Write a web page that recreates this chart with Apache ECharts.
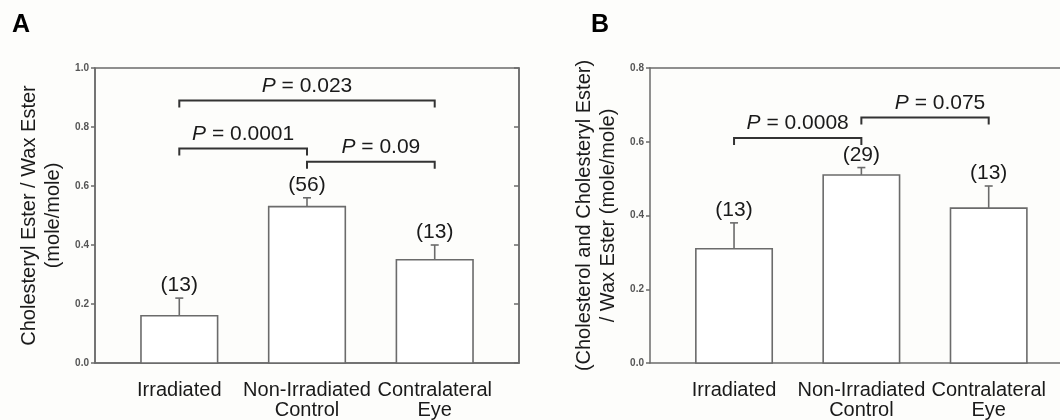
<!DOCTYPE html>
<html>
<head>
<meta charset="utf-8">
<script src="https://cdn.jsdelivr.net/npm/echarts@6/dist/echarts.min.js"></script>
<style>
html,body{margin:0;padding:0;background:#fdfdfb;}
#chart{width:1060px;height:420px;}
</style>
</head>
<body>
<div id="chart"></div>
<script>
// ---- data ----
const categories = ['Irradiated', 'Non-Irradiated\nControl', 'Contralateral\nEye'];
const meanA = [0.16, 0.53, 0.35];
const semA  = [0.06, 0.03, 0.05];
const nA    = [13, 56, 13];
const meanB = [0.31, 0.51, 0.42];
const semB  = [0.07, 0.02, 0.06];
const nB    = [13, 29, 13];
// comparisons: [from category, to category, bracket level, p value]
const compA = [[0, 2, 0.89, '0.023'], [0, 1, 0.727, '0.0001'], [1, 2, 0.682, '0.09']];
const compB = [[0, 1, 0.61, '0.0008'], [1, 2, 0.666, '0.075']];
const yTicksA = { min: 0, max: 1.0, interval: 0.2 };
const yTicksB = { min: 0, max: 0.8, interval: 0.2 };
const titleA = 'Cholesteryl Ester / Wax Ester\n(mole/mole)';
const titleB = '(Cholesterol and Cholesteryl Ester)\n/ Wax Ester (mole/mole)';

// ---- style ----
const FONT = "'Liberation Sans', Arial, sans-serif";
const BAR_HALF = 0.3;
const CAP = 4;
const LEG = 7;
const pShiftA = [0, 0, 10];
const pShiftB = [0, 15];
const LINE = '#6b6b6b';
const DARK = '#333';
const TEXT = '#1a1a1a';

function barRender() {
  return function (params, api) {
    const i = api.value(0);
    const m = api.value(1);
    const top = m + api.value(2);
    const p0 = api.coord([i - BAR_HALF, m]);
    const p1 = api.coord([i + BAR_HALF, 0]);
    const c = api.coord([i, m]);
    const e = api.coord([i, top]);
    return {
      type: 'group',
      children: [
        { type: 'rect', shape: { x: p0[0], y: p0[1], width: p1[0] - p0[0], height: p1[1] - p0[1] },
          style: { fill: '#ffffff', stroke: LINE, lineWidth: 1.6 } },
        { type: 'line', shape: { x1: c[0], y1: c[1], x2: e[0], y2: e[1] }, style: { stroke: LINE, lineWidth: 1.6 } },
        { type: 'line', shape: { x1: e[0] - CAP, y1: e[1], x2: e[0] + CAP, y2: e[1] }, style: { stroke: LINE, lineWidth: 1.6 } },
        { type: 'text', x: e[0], y: e[1] - 2,
          style: { text: '(' + api.value(3) + ')', fill: TEXT, fontFamily: FONT, fontSize: 21,
                   align: 'center', verticalAlign: 'bottom' } }
      ]
    };
  };
}

function bracketRender(comps, shifts) {
  return function (params, api) {
    const a = api.coord([api.value(0), api.value(2)]);
    const b = api.coord([api.value(1), api.value(2)]);
    const label = comps[params.dataIndex][3];
    const mid = (a[0] + b[0]) / 2 + shifts[params.dataIndex];
    return {
      type: 'group',
      children: [
        { type: 'polyline', shape: { points: [[a[0], a[1] + LEG], [a[0], a[1]], [b[0], b[1]], [b[0], b[1] + LEG]] },
          style: { stroke: DARK, lineWidth: 2, fill: null } },
        { type: 'text', x: mid, y: a[1] - 4,
          style: { text: '{i|P} = ' + label, fill: TEXT, fontFamily: FONT, fontSize: 21,
                   align: 'center', verticalAlign: 'bottom',
                   rich: { i: { fontStyle: 'italic', fontFamily: FONT, fontSize: 21, fill: TEXT } } } }
      ]
    };
  };
}

function xAxisFor(gridIndex, min, max) {
  return {
    type: 'value', gridIndex: gridIndex, min: min, max: max,
    axisLine: { show: true, onZero: false, lineStyle: { color: LINE, width: 1.5 } },
    axisTick: { show: false },
    splitLine: { show: false },
    axisLabel: {
      customValues: [0, 1, 2],
      formatter: function (v) { return categories[Math.round(v)]; },
      color: TEXT, fontFamily: FONT, fontSize: 20, lineHeight: 20, margin: 17
    }
  };
}

function yAxisFor(gridIndex, ticks, name) {
  return {
    type: 'value', gridIndex: gridIndex, min: ticks.min, max: ticks.max, interval: ticks.interval,
    name: name, nameLocation: 'middle', nameGap: 30, nameRotate: 90,
    nameTextStyle: { color: TEXT, fontFamily: FONT, fontSize: 20, lineHeight: 24 },
    axisLine: { show: true, onZero: false, lineStyle: { color: LINE, width: 1.5 } },
    axisTick: { show: true, inside: false, length: 4, lineStyle: { color: LINE, width: 1.5 } },
    splitLine: { show: false },
    axisLabel: {
      formatter: function (v) { return v.toFixed(1); },
      color: '#555', fontFamily: FONT, fontSize: 10, fontWeight: 'bold', margin: 6
    }
  };
}

const chart = echarts.init(document.getElementById('chart'));
const yRightA = {
  type: 'value', gridIndex: 0, position: 'right', min: yTicksA.min, max: yTicksA.max, interval: yTicksA.interval,
  axisLine: { show: true, onZero: false, lineStyle: { color: LINE, width: 1.5 } },
  axisTick: { show: true, inside: true, length: 5, lineStyle: { color: LINE, width: 1.5 } },
  axisLabel: { show: false }, splitLine: { show: false }
};
const xTopB = {
  type: 'value', gridIndex: 1, position: 'top', min: -0.66, max: 2.56,
  axisLine: { show: true, onZero: false, lineStyle: { color: LINE, width: 1.5 } },
  axisTick: { show: false }, axisLabel: { show: false }, splitLine: { show: false }
};

chart.setOption({
  backgroundColor: '#fdfdfb',
  animation: false,
  title: [
    { text: 'A', left: 7, top: 8, textStyle: { fontFamily: FONT, fontSize: 25, fontWeight: 'bold', color: '#000' } },
    { text: 'B', left: 586, top: 8, textStyle: { fontFamily: FONT, fontSize: 25, fontWeight: 'bold', color: '#000' } }
  ],
  grid: [
    { left: 95, top: 68, right: 541, bottom: 57, show: true, borderColor: LINE, borderWidth: 1.5, backgroundColor: 'transparent' },
    { left: 650, top: 68, right: 0, bottom: 57, show: false }
  ],
  xAxis: [xAxisFor(0, -0.66, 2.66), xAxisFor(1, -0.66, 2.56), xTopB],
  yAxis: [yAxisFor(0, yTicksA, titleA), yAxisFor(1, yTicksB, titleB), yRightA],
  series: [
    { type: 'custom', xAxisIndex: 0, yAxisIndex: 0, renderItem: barRender(),
      data: categories.map(function (c, i) { return [i, meanA[i], semA[i], nA[i]]; }) },
    { type: 'custom', xAxisIndex: 0, yAxisIndex: 0, renderItem: bracketRender(compA, pShiftA),
      data: compA.map(function (c) { return [c[0], c[1], c[2]]; }) },
    { type: 'custom', xAxisIndex: 1, yAxisIndex: 1, renderItem: barRender(),
      data: categories.map(function (c, i) { return [i, meanB[i], semB[i], nB[i]]; }) },
    { type: 'custom', xAxisIndex: 1, yAxisIndex: 1, renderItem: bracketRender(compB, pShiftB),
      data: compB.map(function (c) { return [c[0], c[1], c[2]]; }) }
  ]
});
</script>
</body>
</html>
